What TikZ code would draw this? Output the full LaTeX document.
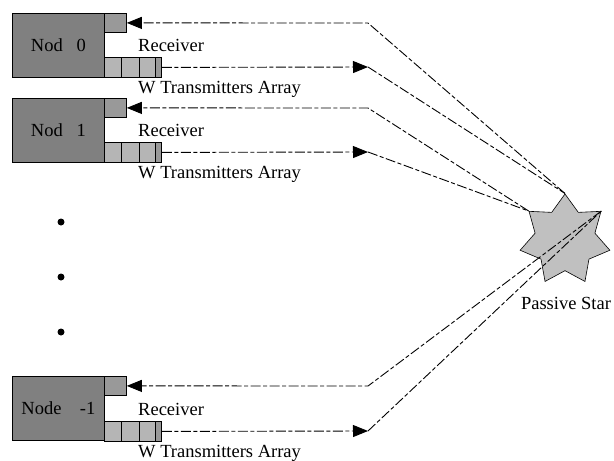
\documentclass[tikz,border=0pt]{standalone}
\usepackage{fontspec}
\setmainfont{Liberation Serif}
\usetikzlibrary{arrows.meta,shapes.geometric}
\definecolor{nodegray}{RGB}{128,128,128}
\definecolor{rxgray}{RGB}{153,153,153}
\definecolor{cellgray}{RGB}{181,181,181}
\definecolor{stargray}{RGB}{192,192,192}

\begin{document}
\begin{tikzpicture}[x=1pt,y=-1pt,font=\fontsize{18.5}{20}\selectfont,
	nodebox/.style={draw,line width=0.8pt,fill=nodegray,minimum width=92pt,minimum height=64pt,inner sep=0pt,anchor=north west},
	rxbox/.style={draw,line width=0.8pt,fill=rxgray,minimum width=22pt,minimum height=19pt,inner sep=0pt,anchor=north west},
	txbox/.style={draw,line width=0.8pt,fill=cellgray,minimum width=57pt,minimum height=20pt,inner sep=0pt,anchor=north west},
	lbl/.style={anchor=base west,inner sep=0pt},
	sig/.style={line width=0.9pt,dash pattern=on 10pt off 2.5pt on 4pt off 2.5pt},
	arrowend/.style={-{Triangle[length=15pt,width=12pt]}},
	dot/.style={circle,fill,inner sep=0pt,minimum size=7pt}]
	\useasboundingbox (0,0) rectangle (614,461);

	% passive star
	\node[draw,line width=0.6pt,star,star points=7,star point ratio=1.5,minimum size=92pt,inner sep=0pt,fill=stargray] (star) at (565,240) {};
	\node[anchor=base] (starlabel) at (566,309) {Passive Star};

	% node 0
	\node[nodebox] (n0) at (12,13) {Nod\ \ \ 0};
	\node[rxbox] (rx0) at (104,13) {};
	\node[txbox] (tx0) at (104,57) {};
	\draw[line width=0.8pt] (121,57) -- (121,77);
	\draw[line width=0.8pt] (139,57) -- (139,77);
	\filldraw[line width=0.8pt,fill=rxgray] (155,57) rectangle (161,77);
	\node[lbl] (rl0) at (138,51) {Receiver};
	\node[lbl] (tl0) at (138,93) {W Transmitters Array};
	\coordinate (b0r) at (368,23);
	\coordinate (b0t) at (368,67);
	\draw[sig,arrowend] (star.outer point 1) -- (b0r) -- (rx0.east);
	\draw[sig,arrowend] (tx0.east) -- (b0t);
	\draw[sig] (b0t) -- (star.outer point 1);

	% node 1
	\node[nodebox] (n1) at (12,98) {Nod\ \ \ 1};
	\node[rxbox] (rx1) at (104,98) {};
	\node[txbox] (tx1) at (104,142) {};
	\draw[line width=0.8pt] (121,142) -- (121,162);
	\draw[line width=0.8pt] (139,142) -- (139,162);
	\filldraw[line width=0.8pt,fill=rxgray] (155,142) rectangle (161,162);
	\node[lbl] (rl1) at (138,136) {Receiver};
	\node[lbl] (tl1) at (138,178) {W Transmitters Array};
	\coordinate (b1r) at (368,108);
	\coordinate (b1t) at (368,152);
	\draw[sig,arrowend] (star.outer point 2) -- (b1r) -- (rx1.east);
	\draw[sig,arrowend] (tx1.east) -- (b1t);
	\draw[sig] (b1t) -- (star.outer point 2);

	% dots
	\node[dot] (d1) at (61,222) {};
	\node[dot] (d2) at (61,277) {};
	\node[dot] (d3) at (61,332) {};

	% node -1
	\node[nodebox] (nl) at (12,376) {Node\ \ \ \ -1};
	\node[rxbox] (rxl) at (104,376) {};
	\node[txbox] (txl) at (104,421) {};
	\draw[line width=0.8pt] (121,421) -- (121,441);
	\draw[line width=0.8pt] (139,421) -- (139,441);
	\filldraw[line width=0.8pt,fill=rxgray] (155,421) rectangle (161,441);
	\node[lbl] (rll) at (138,415) {Receiver};
	\node[lbl] (tll) at (138,457) {W Transmitters Array};
	\coordinate (blr) at (368,386);
	\coordinate (blt) at (368,431);
	\draw[sig,arrowend] (star.outer point 7) -- (blr) -- (rxl.east);
	\draw[sig,arrowend] (txl.east) -- (blt);
	\draw[sig] (blt) -- (star.outer point 7);
\end{tikzpicture}
\end{document}
